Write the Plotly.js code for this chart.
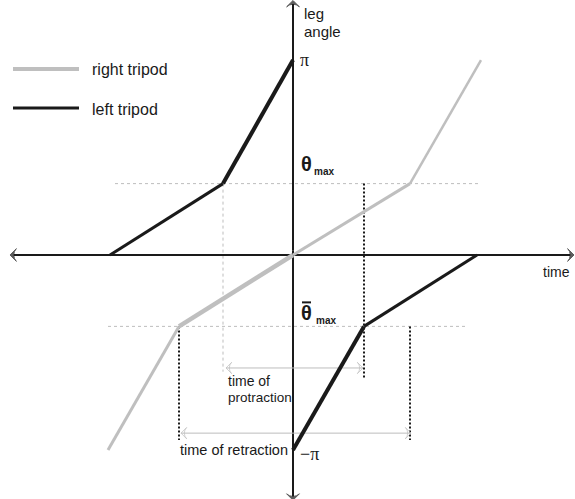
<!DOCTYPE html>
<html>
<head>
<meta charset="utf-8">
<script src="https://cdn.plot.ly/plotly-3.0.1.min.js"></script>
<style>
  html, body { margin: 0; padding: 0; background: #fff; }
  #chart { width: 575px; height: 499px; }
</style>
</head>
<body>
<div id="chart"></div>
<script>
// leg angle vs time, two tripods
const thetaMax = 1.15;
const piVal = 3.14;

// left tripod (black), two pieces
const leftUpTime = [-18.3, -7.0, 0];
const leftUpAngle = [0, 1.15, 3.14];
const leftDownTime = [0, 7.1, 18.4];
const leftDownAngle = [-3.14, -1.15, 0];

// right tripod (grey)
const rightTime = [-18.5, -11.4, 0, 11.7, 18.8];
const rightAngle = [-3.14, -1.15, 0, 1.15, 3.14];

const BLACK = '#1a1a1a';
const GREY = '#bfbfbf';
const GUIDE = '#bdbdbd';
const FONT = 'Liberation Sans, Arial, sans-serif';
const SERIF = 'Liberation Serif, serif';

// one segment of a polyline, so that each piece can get its own width
function seg(xs, ys, i, j, color, width) {
    return {
        x: xs.slice(i, j + 1), y: ys.slice(i, j + 1),
        mode: 'lines', type: 'scatter', hoverinfo: 'skip',
        line: { color: color, width: width }
    };
}
function guide(x0, x1, y0, y1, color, width, dash) {
    return {
        x: [x0, x1], y: [y0, y1], mode: 'lines', type: 'scatter', hoverinfo: 'skip',
        line: { color: color, width: width, dash: dash }
    };
}
// double headed arrow: two halves, each with an arrow marker at its far end
function dblArrow(x0, y0, x1, y1, color, width, symbol, size) {
    const mx = (x0 + x1) / 2, my = (y0 + y1) / 2;
    return [[x0, y0], [x1, y1]].map(p => ({
        x: [mx, p[0]], y: [my, p[1]], type: 'scatter', mode: 'lines+markers', hoverinfo: 'skip',
        line: { color: color, width: width },
        marker: { symbol: symbol, size: [0, size], angleref: 'previous', color: color,
                  line: { color: color, width: 1 } }
    }));
}

const traces = [
    // guide lines
    guide(-17.8, 18.5, thetaMax, thetaMax, GUIDE, 1, '3px,3px'),
    guide(-18.5, 17.2, -thetaMax, -thetaMax, GUIDE, 1, '3px,3px'),
    guide(leftUpTime[1], leftUpTime[1], thetaMax, -1.88, GUIDE, 1, '3px,3px'),
    guide(leftDownTime[1], leftDownTime[1], thetaMax, -1.98, BLACK, 2, '2px,2px'),
    guide(rightTime[1], rightTime[1], -thetaMax, -2.98, BLACK, 2, '2px,2px'),
    guide(rightTime[3], rightTime[3], -thetaMax, -2.98, BLACK, 2, '2px,2px'),
    // axes
    ...dblArrow(-28.3, 0, 28.1, 0, BLACK, 2, 'arrow-wide', 9),
    ...dblArrow(0, -3.95, 0, 4.1, BLACK, 2, 'arrow-wide', 9),
    // time spans
    ...dblArrow(leftUpTime[1] + 0.3, -1.82, leftDownTime[1] - 0.1, -1.82, GUIDE, 1, 'arrow-wide-open', 8),
    ...dblArrow(rightTime[1] + 0.2, -2.87, rightTime[3] + 0.1, -2.87, GUIDE, 1, 'arrow-wide-open', 8),
    // right tripod
    seg(rightTime, rightAngle, 0, 1, GREY, 3),
    seg(rightTime, rightAngle, 1, 2, GREY, 4.5),
    seg(rightTime, rightAngle, 2, 3, GREY, 3),
    seg(rightTime, rightAngle, 3, 4, GREY, 2.5),
    // left tripod
    seg(leftUpTime, leftUpAngle, 0, 1, BLACK, 3),
    seg(leftUpTime, leftUpAngle, 1, 2, BLACK, 4),
    seg(leftDownTime, leftDownAngle, 0, 1, BLACK, 4),
    seg(leftDownTime, leftDownAngle, 1, 2, BLACK, 3)
];

function label(x, y, text, opts) {
    const size = (opts && opts.size) || 14;
    const family = (opts && opts.family) || FONT;
    const a = {
        x: x, y: y, xref: 'x', yref: 'y', text: text, showarrow: false,
        xanchor: 'left', yanchor: 'middle', align: 'left',
        font: { family: family, size: size, color: BLACK }
    };
    ['xshift', 'yshift', 'xanchor', 'yanchor'].forEach(k => { if (opts && k in opts) a[k] = opts[k]; });
    return a;
}

const annotations = [
    // angle labels
    label(0, piVal, 'π', { xshift: 5, size: 18, family: SERIF }),
    label(0, thetaMax, '<b>θ</b>', { xshift: 6, yshift: 20, size: 20 }),
    label(0, thetaMax, '<b>max</b>', { xshift: 19, yshift: 12, size: 10 }),
    label(0, -thetaMax, '<b>θ</b>', { xshift: 6, yshift: 13, size: 20 }),
    label(0, -thetaMax, '<b>max</b>', { xshift: 21, yshift: 6, size: 10 }),
    label(0, -piVal, '−π', { xshift: 5, yshift: -4, size: 18, family: SERIF }),
    // axis titles
    label(0, 4.03, 'leg', { xshift: 9, yshift: -9, size: 15 }),
    label(0, 4.03, 'angle', { xshift: 9, yshift: -27, size: 15 }),
    label(27.9, 0, 'time', { xanchor: 'right', yshift: -17, size: 14 }),
    // span labels
    label(leftUpTime[1] + 0.3, -1.82, 'time of', { yshift: -13, size: 14 }),
    label(leftUpTime[1] + 0.3, -1.82, 'protraction', { yshift: -30, size: 13.5 }),
    label(rightTime[1] - 0.1, -3.14, 'time of retraction', { size: 14.5 }),
    // legend text
    { x: 90 / 575, y: 1 - 69 / 499, xref: 'paper', yref: 'paper', text: 'right tripod', showarrow: false,
      xanchor: 'left', yanchor: 'middle', font: { family: FONT, size: 16, color: BLACK } },
    { x: 90 / 575, y: 1 - 109 / 499, xref: 'paper', yref: 'paper', text: 'left tripod', showarrow: false,
      xanchor: 'left', yanchor: 'middle', font: { family: FONT, size: 16, color: BLACK } }
];

const shapes = [
    // legend swatches
    { type: 'line', xref: 'paper', yref: 'paper', x0: 13 / 575, x1: 79 / 575,
      y0: 1 - 69 / 499, y1: 1 - 69 / 499, line: { color: GREY, width: 4 } },
    { type: 'line', xref: 'paper', yref: 'paper', x0: 13 / 575, x1: 79 / 575,
      y0: 1 - 108 / 499, y1: 1 - 108 / 499, line: { color: BLACK, width: 3 } },
    // bar over the lower theta
    { type: 'line', xref: 'x', yref: 'y', xsizemode: 'pixel', ysizemode: 'pixel',
      xanchor: 0, yanchor: -thetaMax, x0: 9, x1: 18, y0: 24, y1: 24,
      line: { color: BLACK, width: 2 } }
];

const layout = {
    width: 575, height: 499,
    margin: { l: 0, r: 0, t: 0, b: 0 },
    paper_bgcolor: '#fff', plot_bgcolor: '#fff',
    showlegend: false,
    xaxis: { range: [-29.3, 28.2], visible: false, fixedrange: true },
    yaxis: { range: [-3.931, 4.108], visible: false, fixedrange: true },
    annotations: annotations,
    shapes: shapes
};

Plotly.newPlot('chart', traces, layout, { displayModeBar: false, staticPlot: true });
</script>
</body>
</html>
